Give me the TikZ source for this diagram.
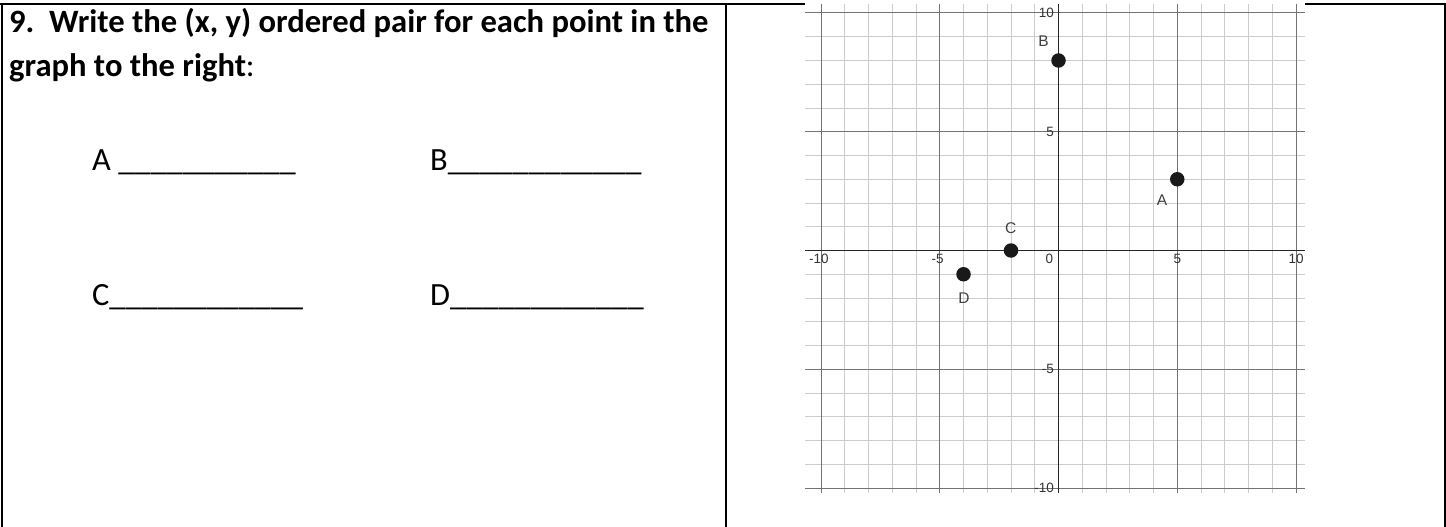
\documentclass[tikz,border=0pt]{standalone}
\usepackage{fontspec}
\setmainfont{Carlito}
\newfontfamily\graphfont{Liberation Sans}
\usetikzlibrary{calc}

\begin{document}
\begin{tikzpicture}[x=1pt,y=-1pt,
  every node/.style={inner sep=0pt},
  question/.style={anchor=base west,font=\fontsize{32.6}{38}\selectfont\bfseries},
  answer/.style={anchor=base west,font=\fontsize{32.4}{38}\selectfont},
  minorline/.style={black!20,line width=1pt},
  majorline/.style={black!55,line width=1pt},
  axisline/.style={black!85,line width=1.7pt},
  ticklabel/.style={font=\graphfont\fontsize{13.5}{15}\selectfont,text=black!80},
  ptlabel/.style={font=\graphfont\fontsize{15.5}{17}\selectfont,text=black!75},
  dot/.style={circle,fill=black!90,minimum size=14.5pt,inner sep=0pt}]
  \useasboundingbox (0,0) rectangle (1446,527);
  % table frame
  \draw[line width=2pt] (0,4) -- (1446,4);
  \draw[line width=2pt] (1.5,4) -- (1.5,527);
  \draw[line width=2pt] (726,4) -- (726,527);
  \draw[line width=2pt] (1445,4) -- (1445,527);
  % question
  \node[question] (q1) at (9,33) {9.\ \ Write the (x, y) ordered pair for each point in the};
  \node[question] (q2) at (9,77) {graph to the right\mdseries:};
  \node[answer] (ansA) at (92,170) {A \_\_\_\_\_\_\_\_\_\_\_};
  \node[answer] (ansB) at (430,170) {B\_\_\_\_\_\_\_\_\_\_\_\_};
  \node[answer] (ansC) at (92,305) {C\_\_\_\_\_\_\_\_\_\_\_\_};
  \node[answer] (ansD) at (430,305) {D\_\_\_\_\_\_\_\_\_\_\_\_};
  % coordinate plane
  \fill[white] (805,3) rectangle (1305,494);
  \begin{scope}[shift={(1058.5,250.5)},x=23.75pt,y=23.75pt]
    \foreach \k in {-10,...,10} {
      \draw[minorline] (-10.67,\k) -- (10.38,\k);
      \draw[minorline] (\k,-10.21) -- (\k,10.38);
    }
    \foreach \k in {-10,-5,5,10} {
      \draw[majorline] (-10.67,\k) -- (10.38,\k);
      \draw[majorline] (\k,-10.21) -- (\k,10.38);
    }
    \draw[axisline] (-10.67,0) -- (10.38,0);
    \draw[axisline] (0,-10.21) -- (0,10.38);
    % axis numbers
    \node[ticklabel,anchor=north] (xm10) at (-10,-0.15) {\llap{-}10};
    \node[ticklabel,anchor=north] (xm5) at (-5,-0.15) {\llap{-}5};
    \node[ticklabel,anchor=north east] (xzero) at (-0.22,-0.15) {0};
    \node[ticklabel,anchor=north] (xp5) at (5,-0.15) {5};
    \node[ticklabel,anchor=north] (xp10) at (10,-0.15) {10};
    \node[ticklabel,anchor=east] (yp10) at (-0.19,10) {10};
    \node[ticklabel,anchor=east] (yp5) at (-0.19,5) {5};
    \node[ticklabel,anchor=east] (ym5) at (-0.19,-5) {-5};
    \node[ticklabel,anchor=east] (ym10) at (-0.19,-10) {-10};
    % plotted points
    \node[dot] (ptA) at (5,3) {};
    \node[dot] (ptB) at (0,8) {};
    \node[dot] (ptC) at (-2,0) {};
    \node[dot] (ptD) at (-4,-1) {};
    \node[ptlabel] (lblA) at (4.36,2.13) {A};
    \node[ptlabel] (lblB) at (-0.63,8.80) {B};
    \node[ptlabel] (lblC) at (-2.01,0.96) {C};
    \node[ptlabel] (lblD) at (-3.98,-2.0) {D};
  \end{scope}
\end{tikzpicture}
\end{document}
